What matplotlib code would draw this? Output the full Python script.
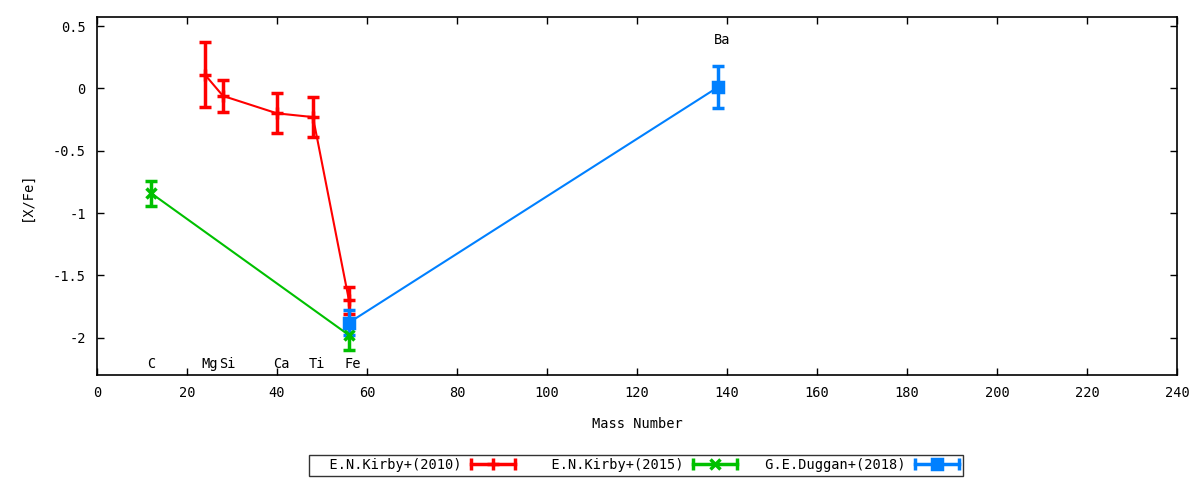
import matplotlib
matplotlib.use("Agg")
import matplotlib.pyplot as plt
from matplotlib.legend_handler import HandlerBase
from matplotlib.lines import Line2D
from matplotlib.ticker import FuncFormatter, MultipleLocator

plt.rcParams['font.family'] = ['DejaVu Sans Mono']
plt.rcParams['font.size'] = 9.8

# Kirby+ (2010): Mg, Si, Ca, Ti, Fe
k10_mass = [24, 28, 40, 48, 56]
k10_val = [0.11, -0.06, -0.20, -0.23, -1.70]
k10_err = [0.26, 0.13, 0.16, 0.16, 0.11]

# Kirby+ (2015): C, Fe
k15_mass = [12, 56]
k15_val = [-0.84, -1.98]
k15_err = [0.10, 0.12]

# Duggan+ (2018): Fe, Ba
d18_mass = [56, 138]
d18_val = [-1.88, 0.01]
d18_err = [0.10, 0.17]

elem_names = ["C", "Mg", "Si", "Ca", "Ti", "Fe", "Ba"]
elem_mass = [12, 24, 28, 40, 48, 56, 138]
elem_ypos = [-2.21, -2.21, -2.21, -2.21, -2.21, -2.21, 0.39]

series = [
    ("  E.N.Kirby+(2010)", k10_mass, k10_val, k10_err, "#ff0000", "+", 9),
    ("  E.N.Kirby+(2015)", k15_mass, k15_val, k15_err, "#00c000", "x", 7),
    (" G.E.Duggan+(2018)", d18_mass, d18_val, d18_err, "#0080ff", "s", 7),
]


class CapHandler(HandlerBase):
    # gnuplot-like key sample: |--marker--|
    def create_artists(self, legend, orig, xd, yd, w, h, fs, trans):
        y = h / 2 - yd
        bar = Line2D([-xd, w - xd], [y, y], color=orig.get_color(), lw=2.5,
                     marker="|", ms=8, mew=2.5, transform=trans)
        mid = Line2D([w / 2 - xd], [y], color=orig.get_color(), lw=0,
                     marker=orig.get_marker(), ms=orig.get_markersize(),
                     mew=2.5, transform=trans)
        return [bar, mid]


fig = plt.figure(figsize=(12, 4.8), dpi=100)
ax = fig.add_axes([0.0808, 0.21875, 0.9, 0.745])

handles = []
for label, xs, ys, es, col, mk, ms in series:
    ax.plot(xs, ys, color=col, lw=1.5, zorder=2)
    ax.errorbar(xs, ys, yerr=es, fmt="none", ecolor=col, elinewidth=2.5,
                capsize=4, capthick=2.5, zorder=3)
    ax.plot(xs, ys, ls="none", marker=mk, ms=ms, mew=2.5, color=col, zorder=4)
    handles.append(Line2D([], [], color=col, marker=mk, ms=ms, label=label))

for name, m, yp in zip(elem_names, elem_mass, elem_ypos):
    ax.text(m - 0.9, yp, name, ha="left", va="center")

ax.set_xlim(0, 240)
ax.set_ylim(-2.3, 0.57)
ax.xaxis.set_major_locator(MultipleLocator(20))
ax.yaxis.set_major_locator(MultipleLocator(0.5))
ax.yaxis.set_major_formatter(FuncFormatter(lambda v, p: "%g" % v))
ax.tick_params(direction="in", top=True, right=True, length=5, width=1, pad=8)
for s in ax.spines.values():
    s.set_linewidth(1.2)

ax.set_xlabel("Mass Number", labelpad=12)
ax.set_ylabel("[X/Fe]", labelpad=14)

leg = fig.legend(handles=handles, loc="center", bbox_to_anchor=(0.53, 0.031),
                 ncol=3, markerfirst=False, frameon=True, fancybox=False,
                 handlelength=3.3, handletextpad=0.7, columnspacing=1.4,
                 borderpad=0.25, borderaxespad=0,
                 handler_map={Line2D: CapHandler()})
leg.get_frame().set_edgecolor("black")
leg.get_frame().set_linewidth(1)

fig.savefig("out.png", dpi=100)
